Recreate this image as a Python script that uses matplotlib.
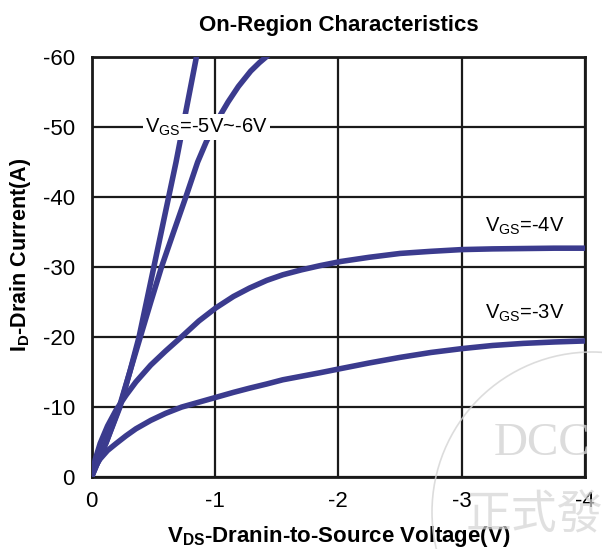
import matplotlib
matplotlib.use("Agg")
import matplotlib.pyplot as plt
from matplotlib.patches import Circle

plt.rcParams['font.family'] = ['Liberation Sans', 'DejaVu Sans']
plt.rcParams['mathtext.fontset'] = 'custom'
plt.rcParams['mathtext.rm'] = 'Liberation Sans'
plt.rcParams['mathtext.bf'] = 'Liberation Sans:bold'

# curves (Vds in V, Id in A)
vds_6 = [0, -0.06, -0.12, -0.225, -0.31, -0.385, -0.445, -0.505, -0.565, -0.625,
         -0.685, -0.74, -0.795, -0.85]
id_6 = [0, -2.5, -5, -10, -15, -20, -25, -30, -35, -40, -45, -50, -55, -60]

vds_5 = [0, -0.06, -0.12, -0.23, -0.31, -0.395, -0.48, -0.567, -0.665, -0.764,
         -0.86, -0.93, -0.99, -1.04, -1.107, -1.19, -1.29, -1.36, -1.44]
id_5 = [0, -2.5, -5, -10, -15, -20, -25, -30, -35, -40,
        -45, -47.9, -50.0, -51.6, -53.6, -55.8, -58.0, -59.2, -60.4]

vds_4 = [0, -0.03, -0.07, -0.13, -0.2, -0.28, -0.36, -0.48, -0.6, -0.74, -0.87,
         -1.01, -1.15, -1.28, -1.42, -1.55, -1.7, -1.85, -2.02, -2.25, -2.5,
         -2.75, -3.0, -3.25, -3.5, -3.75, -4.0]
id_4 = [0, -2.5, -4.8, -7.3, -9.6, -11.7, -13.6, -16.0, -18.0, -20.2, -22.3,
        -24.2, -25.8, -27.0, -28.1, -28.9, -29.6, -30.2, -30.8, -31.4, -31.95,
        -32.25, -32.5, -32.6, -32.65, -32.7, -32.7]

vds_3 = [0, -0.03, -0.07, -0.13, -0.2, -0.28, -0.36, -0.48, -0.6, -0.73, -0.87,
         -1.01, -1.15, -1.28, -1.42, -1.55, -1.7, -1.85, -2.02, -2.25, -2.5,
         -2.75, -3.0, -3.25, -3.5, -3.75, -4.0]
id_3 = [0, -1.5, -2.6, -3.8, -4.8, -5.9, -6.9, -8.1, -9.1, -10.0, -10.7,
        -11.4, -12.1, -12.7, -13.3, -13.9, -14.4, -14.9, -15.5, -16.3, -17.1,
        -17.8, -18.35, -18.8, -19.1, -19.3, -19.45]

x_ticks = [0, -1, -2, -3, -4]
y_ticks = [0, -10, -20, -30, -40, -50, -60]

line_color = '#3b3b8e'

fig = plt.figure(figsize=(6.02, 5.49), dpi=100)
ax = fig.add_axes([0.152, 0.131, 0.820, 0.765])

for xs, ys in [(vds_6, id_6), (vds_5, id_5), (vds_4, id_4), (vds_3, id_3)]:
    ax.plot(xs, ys, color=line_color, lw=4.0, solid_capstyle='round',
            solid_joinstyle='round', zorder=3)

ax.set_xlim(0, -4)
ax.set_ylim(0, -60)
ax.set_xticks(x_ticks)
ax.set_yticks(y_ticks)
ax.set_xticklabels([str(t) for t in x_ticks], fontsize=16)
ax.set_yticklabels([str(t) for t in y_ticks], fontsize=16)
ax.tick_params(axis='x', length=0, pad=10)
ax.tick_params(axis='y', length=0, pad=12)
ax.grid(True, color='#1a1a1a', lw=1.6, zorder=1)
for s in ax.spines.values():
    s.set_linewidth(2.0)
    s.set_color('#1a1a1a')

ax.set_title('On-Region Characteristics', fontsize=16, fontweight='bold', pad=19)
ax.set_xlabel(r'$\mathbf{V_{DS}}$-Dranin-to-Source Voltage(V)', fontsize=16,
              fontweight='bold', labelpad=9)
ax.set_ylabel(r'$\mathbf{I_{D}}$-Drain Current(A)', fontsize=15.5,
              fontweight='bold', labelpad=4)
ax.yaxis.set_label_coords(-0.118, 0.53)

ax.text(-0.93, -50, r'V$_{\mathrm{GS}}$=-5V~-6V', fontsize=14.5, ha='center', va='center',
        bbox=dict(facecolor='white', edgecolor='none', pad=1.5), zorder=4)
ax.text(-3.51, -35.8, r'V$_{\mathrm{GS}}$=-4V', fontsize=14.5, ha='center', va='center', zorder=4)
ax.text(-3.51, -23.4, r'V$_{\mathrm{GS}}$=-3V', fontsize=14.5, ha='center', va='center', zorder=4)

# faint stamp in the lower right corner
wm = '#d4d4d4'
fig.patches.append(Circle((592, 549 - 512), 160, transform=None, fill=False,
                          edgecolor=wm, lw=1.2, alpha=0.8, zorder=5))
fig.text(494 / 602, 1 - 455 / 549, 'DCC', fontsize=34, family='Liberation Serif',
         color=wm, alpha=0.8, zorder=5)
fig.text(466 / 602, 1 - 528 / 549, '正式發行', fontsize=33,
         family=['Noto Sans CJK TC', 'DejaVu Sans'], color=wm, alpha=0.7, zorder=5)

fig.savefig('out.png', dpi=100)
